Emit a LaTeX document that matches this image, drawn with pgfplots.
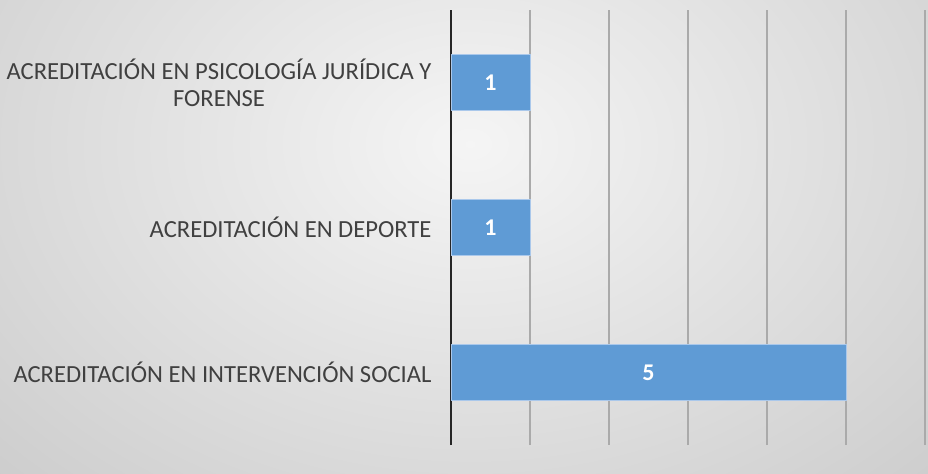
\documentclass[border=0pt]{standalone}
\usepackage{fontspec}
\setmainfont{Carlito}
\usepackage{pgfplots}
\pgfplotsset{compat=1.18}
\definecolor{barfill}{RGB}{95,155,213}
\definecolor{barline}{RGB}{170,200,235}
\definecolor{gridc}{RGB}{170,170,170}
\definecolor{txt}{RGB}{64,64,64}
\begin{document}
\begin{tikzpicture}
\useasboundingbox (0,0) rectangle (928bp,474bp);
\begin{scope}
\clip (0,0) rectangle (928bp,474bp);
\shade[inner color=white!96!black, outer color=white!70!black] (470bp,330bp) ellipse (1100bp and 800bp);
\end{scope}
\begin{axis}[
  at={(451bp,29bp)}, anchor=south west,
  scale only axis, width=474bp, height=435bp,
  xmin=0, xmax=6, ymin=-0.5, ymax=2.5,
  xbar, bar width=56bp,
  axis line style={draw=none},
  xtick={1,2,3,4,5,6}, xticklabels={},
  xmajorgrids, grid style={gridc, line width=1.5bp},
  extra x ticks={0}, extra x tick labels={},
  extra x tick style={grid style={black!85, line width=2.5bp}, major tick length=0pt},
  major tick length=0pt,
  ytick={0,1,2},
  yticklabels={{ACREDITACIÓN EN INTERVENCIÓN SOCIAL},{ACREDITACIÓN EN DEPORTE},{ACREDITACIÓN EN PSICOLOGÍA JURÍDICA Y\\FORENSE}},
  yticklabel style={align=center, text=txt, font=\fontsize{24.6bp}{27bp}\selectfont, xshift=-16bp},
  /pgf/number format/assume math mode=true,
  clip=false,
]
\addplot[fill=barfill, draw=barline, line width=1bp,
  visualization depends on={rawx \as \rawx},
  nodes near coords,
  nodes near coords style={anchor=center, text=white, font=\fontsize{24bp}{27bp}\selectfont\bfseries, xshift={-39.5bp*\rawx}},
] coordinates {(5,0) (1,1) (1,2)};
\end{axis}
\end{tikzpicture}
\end{document}
